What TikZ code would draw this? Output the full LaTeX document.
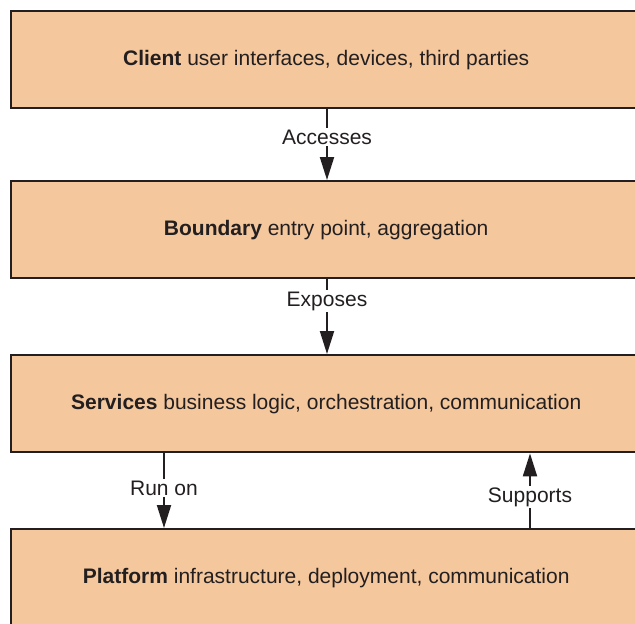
\documentclass[tikz,border=0pt]{standalone}
\usepackage{fontspec}
\setmainfont{Liberation Sans}
\usetikzlibrary{arrows.meta}
\definecolor{boxfill}{HTML}{F4C79D}
\definecolor{ink}{HTML}{231F20}
\begin{document}
\begin{tikzpicture}[x=1pt,y=-1pt,
  layer/.style={draw=ink,line width=2.4pt,fill=boxfill,minimum width=630pt,minimum height=97pt,inner sep=0pt,anchor=north west,text=ink,font=\fontsize{21pt}{24pt}\selectfont},
  lbl/.style={font=\fontsize{21pt}{24pt}\selectfont,fill=white,inner sep=1.5pt,text=ink},
  conn/.style={draw=ink,line width=2pt},
  tip/.style={-{Triangle[length=23pt,width=14pt]}}]
\useasboundingbox (0,0) rectangle (635,624);
\clip (0,0) rectangle (635,624);
\node[layer] (client) at (10,10) {\textbf{Client} user interfaces, devices, third parties};
\node[layer] (boundary) at (10,180) {\textbf{Boundary} entry point, aggregation};
\node[layer] (services) at (10,354) {\textbf{Services} business logic, orchestration, communication};
\node[layer] (platform) at (10,528) {\textbf{Platform} infrastructure, deployment, communication};
\node[lbl] (acc) at (327,137) {Accesses};
\node[lbl] (exp) at (327,301) {Exposes};
\node[lbl] (run) at (164,488) {Run on};
\node[lbl] (sup) at (530,497) {Supports};
\draw[conn] (client.south -| acc) -- (acc.north);
\draw[conn,tip] (acc.south) -- (boundary.north -| acc);
\draw[conn] (boundary.south -| exp) -- (exp.north);
\draw[conn,tip] (exp.south) -- (services.north -| exp);
\draw[conn] (services.south -| run) -- (run.north);
\draw[conn,tip] (run.south) -- (platform.north -| run);
\draw[conn] (platform.north -| sup) -- (sup.south);
\draw[conn,tip] (sup.north) -- (services.south -| sup);
\end{tikzpicture}
\end{document}
